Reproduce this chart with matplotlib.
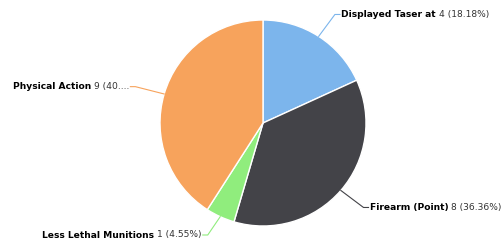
import numpy as np
import matplotlib
matplotlib.use("Agg")
import matplotlib.pyplot as plt

categories = ["Displayed Taser at", "Firearm (Point)", "Less Lethal Munitions", "Physical Action"]
counts = [4, 8, 1, 9]
value_labels = ["4 (18.18%)", "8 (36.36%)", "1 (4.55%)", "9 (40...."]
colors = ["#7cb5ec", "#434348", "#90ed7d", "#f7a35c"]

W, H = 504, 248
fig = plt.figure(figsize=(W / 100, H / 100), dpi=100)
ax = fig.add_axes([0, 0, 1, 1])

cx, cy, r = 263, H - 123, 103
wedges, _ = ax.pie(counts, colors=colors, startangle=90, counterclock=False,
                   center=(cx, cy), radius=r, frame=True,
                   wedgeprops=dict(edgecolor="white", linewidth=1))
ax.set_xlim(0, W)
ax.set_ylim(0, H)
ax.set_aspect("equal")
ax.axis("off")

fig.canvas.draw()
renderer = fig.canvas.get_renderer()
fs = 6.6
for w, name, val, c in zip(wedges, categories, value_labels, colors):
    theta = np.deg2rad((w.theta1 + w.theta2) / 2)
    ex, ey = cx + r * np.cos(theta), cy + r * np.sin(theta)
    lx, ly = cx + (r + 30) * np.cos(theta), cy + (r + 26) * np.sin(theta)
    ly = min(max(ly, H - 235), H - 13)
    right = np.cos(theta) > 0
    tx = lx + 5 if right else lx - 5
    ax.plot([ex, lx, tx], [ey, ly, ly], color=c, lw=0.8)
    if right:
        t1 = ax.text(tx + 1, ly, name, fontsize=fs, fontweight="bold", ha="left", va="center")
        bb = t1.get_window_extent(renderer)
        ax.text(bb.x1 + 3, ly, val, fontsize=fs, color="#333333", ha="left", va="center")
    else:
        t2 = ax.text(tx - 1, ly, val, fontsize=fs, color="#333333", ha="right", va="center")
        bb = t2.get_window_extent(renderer)
        ax.text(bb.x0 - 3, ly, name, fontsize=fs, fontweight="bold", ha="right", va="center")

fig.savefig("out.png", dpi=100)
